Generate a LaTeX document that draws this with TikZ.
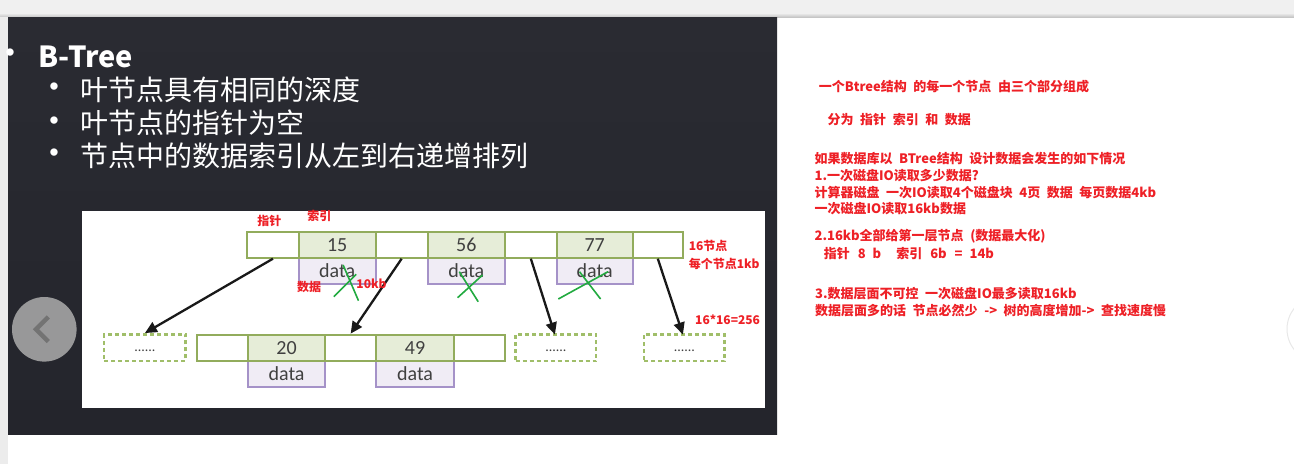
\documentclass[tikz,border=0pt]{standalone}
\usepackage{fontspec}
\newfontfamily\cjk{Noto Sans CJK SC}
\newfontfamily\cjkr{Noto Sans CJK SC}[WordSpace=2.2]
\newfontfamily\calib{Carlito}
\newfontfamily\lsans{Liberation Sans}
\usetikzlibrary{arrows.meta}
\definecolor{slidebg}{RGB}{36,37,44}
\definecolor{slidetop}{RGB}{42,43,50}
\definecolor{bgreen}{RGB}{146,172,92}
\definecolor{dgreen}{RGB}{160,190,105}
\definecolor{keyfill}{RGB}{230,237,216}
\definecolor{datafill}{RGB}{240,236,245}
\definecolor{dataline}{RGB}{165,146,200}
\definecolor{redtxt}{RGB}{238,32,38}
\definecolor{xgreen}{RGB}{34,170,64}
\definecolor{numtxt}{RGB}{64,64,64}
\tikzset{
  cellbase/.style={draw=bgreen, line width=2pt, inner sep=0pt, minimum height=26pt},
  ptrcell/.style={cellbase, fill=white},
  keycell/.style={cellbase, fill=keyfill, font=\calib\fontsize{20}{24}\selectfont, text=numtxt},
  datacell/.style={draw=dataline, line width=2pt, fill=datafill, inner sep=0pt, minimum height=26pt,
     font=\calib\fontsize{20}{24}\selectfont, text=numtxt},
  dashcell/.style={draw=dgreen, line width=2.5pt, dash pattern=on 4pt off 3pt, fill=white, inner sep=0pt,
     minimum height=26.7pt, font=\calib\fontsize{14}{17}\selectfont, text=numtxt},
  ptrarrow/.style={draw=black!90, line width=2.3pt, -{Triangle[length=12pt,width=11pt]}},
  xmark/.style={draw=xgreen, line width=1.6pt},
  redlbl/.style={text=redtxt, font=\cjk\bfseries\fontsize{12}{14}\selectfont, inner sep=0pt},
  rtext/.style={text=redtxt, font=\cjkr\bfseries\fontsize{13}{15}\selectfont, inner sep=0pt, anchor=base west},
  slidetxt/.style={text=white, font=\cjk\fontsize{28}{32}\selectfont, inner sep=0pt, anchor=base west},
  bullet/.style={text=white, font=\lsans\fontsize{27}{30}\selectfont, inner sep=0pt}
}
\begin{document}
\begin{tikzpicture}[x=1pt,y=-1pt]
\useasboundingbox (0,0) rectangle (1294,464);
\clip (0,0) rectangle (1294,464);
% page background
\fill[white] (0,0) rectangle (1294,464);
\fill[gray!12] (0,0) rectangle (1294,14);
\shade[top color=gray!12, bottom color=gray!45] (0,13) rectangle (1294,17);
\fill[gray!15] (0,17) rectangle (8,464);
% slide
\shade[top color=slidetop, bottom color=slidebg] (8,17) rectangle (777,434);
% nav button
\fill[gray!75!white, fill opacity=0.95] (44.3,329.3) circle (32.3);
\draw[line width=4.5pt, color=black!55] (48.3,317) -- (36,329.3) -- (48.3,341.6);
\draw[gray!18, line width=1pt] (1320,329) circle (33);
% slide text
\node[bullet] (b0) at (10,55.5) {•};
\node[text=white, font=\cjk\bfseries\fontsize{29}{32}\selectfont, inner sep=0pt, anchor=west] (title) at (38.5,56.7) {B-Tree};
\node[bullet] (b1) at (54,89.5) {•};
\node[slidetxt] (t1) at (80.6,100.6) {叶节点具有相同的深度};
\node[bullet] (b2) at (54,122.8) {•};
\node[slidetxt] (t2) at (80.6,133.9) {叶节点的指针为空};
\node[bullet] (b3) at (54,155.5) {•};
\node[slidetxt] (t3) at (80.6,166.6) {节点中的数据索引从左到右递增排列};
% white panel
\fill[white] (82,211) rectangle (765,408);
% top data boxes
\node[datacell, minimum width=77pt] (da1) at (337.2,270.9) {data};
\node[datacell, minimum width=77.5pt] (da2) at (466.35,270.9) {data};
\node[datacell, minimum width=76.1pt] (da3) at (594.65,270.9) {data};
% top row
\node[ptrcell, minimum width=51.5pt] (p1) at (272.95,244.7) {};
\node[keycell, minimum width=77pt] (k1) at (337.2,244.7) {15};
\node[ptrcell, minimum width=51.9pt] (p2) at (401.65,244.7) {};
\node[keycell, minimum width=77.5pt] (k2) at (466.35,244.7) {56};
\node[ptrcell, minimum width=51.5pt] (p3) at (530.85,244.7) {};
\node[keycell, minimum width=76.1pt] (k3) at (594.65,244.7) {77};
\node[ptrcell, minimum width=50.2pt] (p4) at (657.8,244.7) {};
% bottom data
\node[datacell, minimum width=77pt] (db1) at (286.6,373.9) {data};
\node[datacell, minimum width=77.8pt] (db2) at (415.1,373.9) {data};
% bottom row
\node[ptrcell, minimum width=51.5pt] (q1) at (222.35,347.65) {};
\node[keycell, minimum width=77pt] (m1) at (286.6,347.65) {20};
\node[ptrcell, minimum width=51.1pt] (q2) at (350.65,347.65) {};
\node[keycell, minimum width=77.8pt] (m2) at (415.1,347.65) {49};
\node[ptrcell, minimum width=50.6pt] (q3) at (479.3,347.65) {};
% dashed boxes
\node[dashcell, minimum width=81.4pt] (d1) at (144.9,347.65) {\strut ......};
\node[dashcell, minimum width=80.6pt] (d2) at (555.9,347.65) {\strut ......};
\node[dashcell, minimum width=80.6pt] (d3) at (684.4,347.65) {\strut ......};
% arrows
\draw[ptrarrow] (p1.south) -- (d1.north);
\draw[ptrarrow] (p2.south) -- (q2.north);
\draw[ptrarrow] (p3.south) -- ([xshift=-1pt,yshift=-1.5pt]d2.north);
\draw[ptrarrow] (p4.south) -- ([xshift=-1.5pt,yshift=-1.5pt]d3.north);
% green crosses
\draw[xmark] (333.9,296.7) -- (356.3,274.3);
\draw[xmark] (343.1,265) -- (358.5,300.7);
\draw[xmark] (457.6,297.7) -- (482.6,275);
\draw[xmark] (459.3,271.7) -- (478.2,301.7);
\draw[xmark] (558.3,299) -- (608,271.7);
\draw[xmark] (579.5,271.7) -- (600.6,299);
% red labels in diagram
\node[redlbl] (lp) at (269.3,221.3) {指针};
\node[redlbl] (li) at (319.3,216) {索引};
\node[redlbl] (ld) at (309,287) {数据};
\node[redlbl] (l10) at (371.5,283.5) {10kb};
\node[redlbl, anchor=west] (l16) at (688.6,246.3) {16节点};
\node[redlbl, anchor=west] (l1kb) at (688.6,264) {每个节点1kb};
\node[redlbl, anchor=west] (l256) at (695,320) {16*16=256};
% right notes
\node[rtext] (r1) at (818.7,91.4) {一个Btree结构 的每一个节点 由三个部分组成};
\node[rtext] (r2) at (827.5,124) {分为 指针 索引 和 数据};
\node[rtext] (r3) at (814.4,163.7) {如果数据库以 BTree结构 设计数据会发生的如下情况};
\node[rtext] (r4) at (814.4,180.4) {1.一次磁盘IO读取多少数据?};
\node[rtext] (r5) at (814.4,197) {计算器磁盘 一次IO读取4个磁盘块 4页 数据 每页数据4kb};
\node[rtext] (r6) at (814.4,213.7) {一次磁盘IO读取16kb数据};
\node[rtext] (r7) at (814.4,240.4) {2.16kb全部给第一层节点 (数据最大化)};
\node[rtext] (r8) at (823.6,258.7) {指针\hspace{8pt}8\hspace{7pt}b\hspace{15pt}索引\hspace{8pt}6b\hspace{8pt}=\hspace{7pt}14b};
\node[rtext] (r9) at (815,298.7) {3.数据层面不可控 一次磁盘IO最多读取16kb};
\node[rtext] (r10) at (815,315.4) {数据层面多的话 节点必然少 -> 树的高度增加-> 查找速度慢};
\end{tikzpicture}
\end{document}
